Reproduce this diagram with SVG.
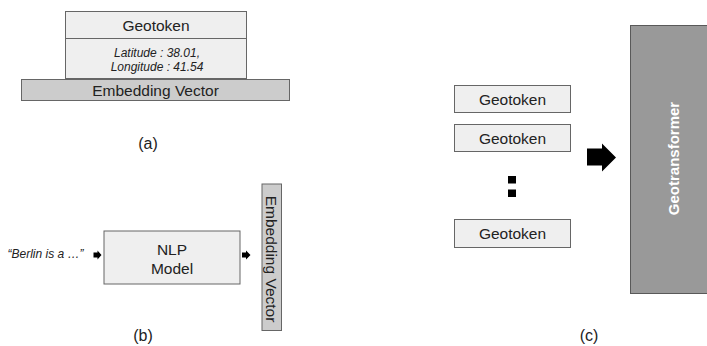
<svg xmlns="http://www.w3.org/2000/svg" width="707" height="346" viewBox="0 0 707 346">
<style>
.light{fill:#efefef;stroke:#666666;stroke-width:1}
.mid{fill:#cccccc;stroke:#666666;stroke-width:1}
.dark{fill:#999999;stroke:#595959;stroke-width:1}
text{font-family:"Liberation Sans",Arial,sans-serif;fill:#222222}
.t14{font-size:15.5px}
.it{font-style:italic;font-size:12px}
.lbl{font-size:16px}
.arr{fill:#000000}
</style>
<rect width="707" height="346" fill="#ffffff"/>
<g id="a-geotoken">
<rect class="light" x="65.5" y="11.5" width="181" height="67"/>
<line x1="65.5" y1="38.5" x2="246.5" y2="38.5" stroke="#666666"/>
<text class="t14" x="156" y="30.5" text-anchor="middle">Geotoken</text>
<text class="it" x="157" y="56.5" text-anchor="middle">Latitude : 38.01,</text>
<text class="it" x="157" y="71" text-anchor="middle">Longitude : 41.54</text>
</g>
<g id="a-embedding">
<rect class="mid" x="21.5" y="79.5" width="268" height="21"/>
<text class="t14" x="155.5" y="95.5" text-anchor="middle">Embedding Vector</text>
</g>
<text class="lbl" x="148" y="148.5" text-anchor="middle">(a)</text>
<g id="b-input">
<text class="it" x="45.5" y="257.5" text-anchor="middle">“Berlin is a …”</text>
</g>
<g id="b-nlp">
<rect class="light" x="104" y="231" width="136" height="53"/>
<text class="t14" x="172" y="254.5" text-anchor="middle">NLP</text>
<text class="t14" x="172" y="273.5" text-anchor="middle">Model</text>
</g>
<g id="b-embedding">
<rect class="mid" x="262" y="184" width="19.5" height="146.5"/>
<text class="t14" transform="translate(265.5,259) rotate(90)" text-anchor="middle">Embedding Vector</text>
</g>
<text class="lbl" x="143" y="340.5" text-anchor="middle">(b)</text>
<g id="c-geotoken1">
<rect class="light" x="454.5" y="85.5" width="116" height="27"/>
<text class="t14" x="512.5" y="105" text-anchor="middle">Geotoken</text>
</g>
<g id="c-geotoken2">
<rect class="light" x="454.5" y="124.5" width="116" height="27"/>
<text class="t14" x="512.5" y="144" text-anchor="middle">Geotoken</text>
</g>
<g id="c-dots">
<rect class="arr" x="508" y="176" width="8" height="7.5"/>
<rect class="arr" x="508" y="189.5" width="8" height="7.5"/>
</g>
<g id="c-geotoken3">
<rect class="light" x="454.5" y="219.5" width="116" height="28"/>
<text class="t14" x="512.5" y="239" text-anchor="middle">Geotoken</text>
</g>
<g id="c-geotransformer">
<rect class="dark" x="630.5" y="25.5" width="80" height="268"/>
<text transform="translate(679,158.5) rotate(-90)" text-anchor="middle" style="font-size:15px;font-weight:bold;fill:#ffffff">Geotransformer</text>
</g>
<text class="lbl" x="589" y="341" text-anchor="middle">(c)</text>
<g id="connectors">
<polygon class="arr" points="93.5,252.5 97.5,252.5 97.5,250.5 101.5,255 97.5,259.5 97.5,257.5 93.5,257.5"/>
<polygon class="arr" points="242,252.5 246,252.5 246,250.5 250.5,255 246,259.5 246,257.5 242,257.5"/>
<polygon class="arr" points="587,148.5 602,148.5 602,143.5 616,157.5 602,171.5 602,165.5 587,165.5"/>
</g>
</svg>
